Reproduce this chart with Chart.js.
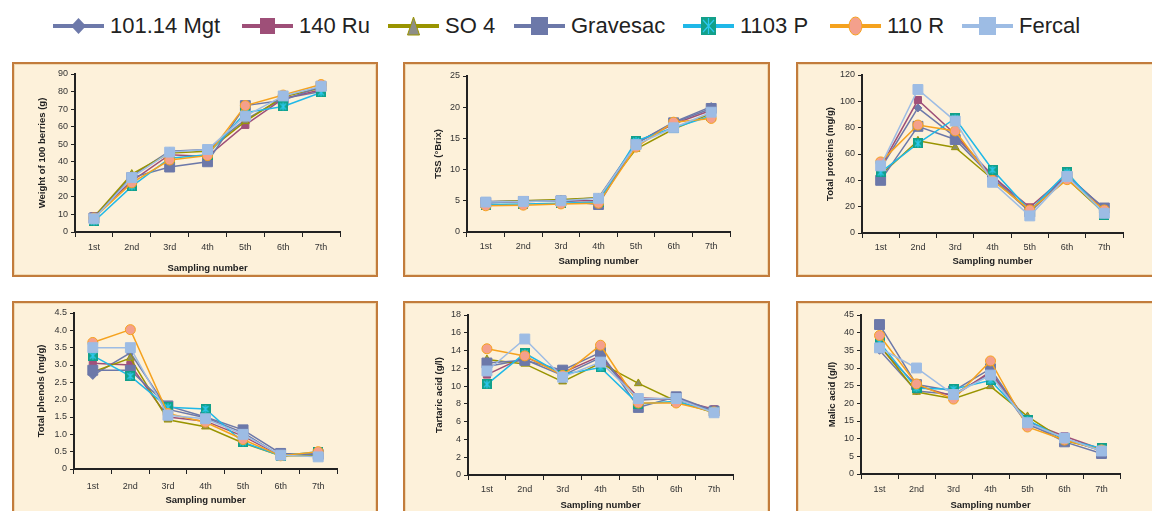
<!DOCTYPE html>
<html>
<head>
<meta charset="utf-8">
<script src="https://cdn.jsdelivr.net/npm/chart.js@4"></script>
<style>
  body { margin: 0; width: 1152px; height: 511px; overflow: hidden; background: #fff; position: relative;
         font-family: "Liberation Sans", Arial, sans-serif; }
  .panel { position: absolute; box-sizing: border-box; background: #fdf1da;
           border: 2px solid #c27c3c; box-shadow: inset 0 0 0 1px #f1d9b2; }
  canvas.plot { position: absolute; }
  .item { position: absolute; top: 14px; height: 24px; display: flex; align-items: center;
          font-size: 22px; color: #222; white-space: nowrap; }
  .item svg { margin-right: 6px; }
</style>
</head>
<body>
<script>
// categories
const samplings = ['1st', '2nd', '3rd', '4th', '5th', '6th', '7th'];
const varieties = ['101.14 Mgt', '140 Ru', 'SO 4', 'Gravesac', '1103 P', '110 R', 'Fercal'];

// one row per variety, same order as above
const weight = [
  [8, 32, 46, 47, 64, 76, 80],
  [9, 29, 44, 43, 61, 76, 81],
  [8.5, 33, 45, 46, 63, 77, 82],
  [8, 31, 37, 40, 72, 75, 83],
  [6, 26, 42, 44, 68, 71.5, 79.5],
  [8, 28, 41, 43.5, 72, 78, 84],
  [7.5, 31, 45.5, 47, 66, 77.5, 83]
];
const tss = [
  [4.9, 5.0, 5.1, 5.5, 14.2, 17.6, 20.1],
  [4.7, 4.9, 5.0, 5.0, 14.3, 17.3, 19.5],
  [4.8, 5.0, 5.2, 5.5, 13.3, 16.5, 19.0],
  [4.7, 4.9, 5.0, 4.4, 14.2, 17.5, 19.8],
  [4.4, 4.5, 4.6, 4.8, 14.6, 16.7, 18.6],
  [4.2, 4.3, 4.5, 4.6, 13.6, 17.6, 18.2],
  [4.8, 4.9, 5.0, 5.4, 14.0, 16.7, 19.2]
];
const proteins = [
  [49, 95, 73, 44, 16, 44, 18],
  [50, 101, 75, 43, 19.5, 44, 18],
  [44, 70, 65, 41, 17, 41, 15],
  [40, 81, 71, 42, 16, 43, 19],
  [46, 68, 87, 48, 17, 46, 14],
  [54, 82, 77.5, 40, 17.5, 40.5, 17.5],
  [51, 109, 85, 38.5, 13, 43, 15]
];
const phenols = [
  [2.7, 3.35, 1.72, 1.48, 1.05, 0.38, 0.43],
  [3.05, 3.0, 1.5, 1.38, 0.95, 0.38, 0.45],
  [2.8, 3.2, 1.42, 1.22, 0.75, 0.38, 0.38],
  [2.85, 2.85, 1.82, 1.5, 1.13, 0.45, 0.42],
  [3.27, 2.68, 1.78, 1.73, 0.77, 0.38, 0.5],
  [3.65, 4.02, 1.6, 1.35, 0.85, 0.38, 0.5],
  [3.5, 3.5, 1.55, 1.45, 1.0, 0.4, 0.35]
];
const tartaric = [
  [12.2, 13.0, 11.2, 13.2, 8.4, 8.7, 7.1],
  [11.3, 13.3, 11.5, 13.4, 8.7, 8.5, 7.4],
  [13.0, 12.5, 10.5, 12.6, 10.3, 8.3, 7.0],
  [12.6, 12.9, 11.8, 13.8, 7.6, 8.8, 7.2],
  [10.2, 13.7, 11.3, 12.1, 8.0, 8.3, 7.1],
  [14.2, 13.4, 11.2, 14.6, 8.1, 8.1, 7.1],
  [11.7, 15.3, 11.0, 12.7, 8.6, 8.6, 7.0]
];
const malic = [
  [35, 23.5, 22.5, 28.5, 14, 10, 6.5],
  [36, 25, 22, 29, 14.8, 10.7, 7],
  [36.5, 23.2, 21.3, 24.8, 16.3, 9.5, 7],
  [42.3, 25.3, 23.5, 29.8, 14.5, 9.1, 5.8],
  [37.3, 24.3, 24, 26.5, 15.3, 9.8, 7.3],
  [39.2, 25.5, 21.2, 32, 13.3, 9.6, 6.8],
  [35.7, 30, 22.5, 28, 14.5, 10.2, 6.5]
];

// styles
const lineColors = ['#6d79aa', '#9e4f78', '#999400', '#6c78a9', '#1fb8e8', '#f5a21e', '#9dbce4'];
const pointFills = ['#6d79aa', '#a0507a', '#8d8c66', '#6c78a9', '#12a08a', '#f4a08c', '#9dbce4'];
const pointEdges = ['#6d79aa', '#a0507a', '#9a9400', '#6c78a9', '#12a08a', '#f5a21e', '#9dbce4'];
const pointSizes = [4, 5, 4.5, 7, 5, 5, 7];
const legendLeft = [53, 242, 388, 514, 683, 830, 962];

// teal square with a cyan asterisk for 1103 P
const star = document.createElement('canvas');
star.width = 10; star.height = 10;
const sc = star.getContext('2d');
sc.fillStyle = '#12a08a';
sc.fillRect(0, 0, 10, 10);
sc.strokeStyle = '#2cc8f0';
sc.lineWidth = 1.2;
sc.beginPath();
sc.moveTo(2, 2); sc.lineTo(8, 8);
sc.moveTo(8, 2); sc.lineTo(2, 8);
sc.moveTo(5, 1); sc.lineTo(5, 9);
sc.stroke();
const pointStyles = ['rectRot', 'rect', 'triangle', 'rect', star, 'circle', 'rect'];

// panel boxes [x, y, w, h] and plot areas [left, right, top, bottom] in page pixels
const panels = [
  { data: weight, title: 'Weight of 100 berries (g)', max: 90, step: 10,
    box: [12, 62, 366, 215], plot: [75, 340, 74, 232], yTitlePad: 25, xTitlePad: 3, tickPad: 5 },
  { data: tss, title: 'TSS (°Brix)', max: 25, step: 5,
    box: [403, 62, 367, 215], plot: [467, 730, 76, 232], yTitlePad: 30, xTitlePad: 10, tickPad: 4 },
  { data: proteins, title: 'Total proteins (mg/g)', max: 120, step: 20,
    box: [796, 62, 367, 215], plot: [862, 1123, 75, 233], yTitlePad: 29, xTitlePad: 10, tickPad: 4 },
  { data: phenols, title: 'Total phenols (mg/g)', max: 4.5, step: 0.5,
    box: [12, 301, 366, 215], plot: [74, 337, 313, 469], yTitlePad: 24, xTitlePad: 10, tickPad: 7 },
  { data: tartaric, title: 'Tartaric acid (g/l)', max: 18, step: 2,
    box: [403, 301, 367, 215], plot: [468, 733, 315, 475], yTitlePad: 31, xTitlePad: 5, tickPad: 4 },
  { data: malic, title: 'Malic acid (g/l)', max: 45, step: 5,
    box: [796, 301, 367, 215], plot: [861, 1120, 315, 474], yTitlePad: 31, xTitlePad: 5, tickPad: 5 }
];

Chart.defaults.font.family = '"Liberation Sans", Arial, sans-serif';

panels.forEach(p => {
  const [bx, by, bw, bh] = p.box;
  const [pl, pr, pt, pb] = p.plot;

  const frame = document.createElement('div');
  frame.className = 'panel';
  Object.assign(frame.style, { left: bx + 'px', top: by + 'px', width: bw + 'px', height: bh + 'px' });
  document.body.appendChild(frame);

  const cv = document.createElement('canvas');
  cv.className = 'plot';
  cv.width = bw; cv.height = bh;
  Object.assign(cv.style, { left: bx + 'px', top: by + 'px', width: bw + 'px', height: bh + 'px' });
  document.body.appendChild(cv);

  new Chart(cv, {
    type: 'line',
    data: {
      labels: samplings,
      datasets: varieties.map((v, i) => ({
        label: v,
        data: p.data[i],
        borderColor: lineColors[i],
        borderWidth: 1.5,
        backgroundColor: pointFills[i],
        pointBorderColor: pointEdges[i],
        pointBorderWidth: 1,
        pointStyle: pointStyles[i],
        pointRadius: pointSizes[i],
        tension: 0,
        order: varieties.length - 1 - i
      }))
    },
    options: {
      responsive: false,
      animation: false,
      events: [],
      layout: { padding: { left: 0, top: pt - by, right: bx + bw - pr, bottom: 0 } },
      plugins: { legend: { display: false }, tooltip: { enabled: false } },
      scales: {
        x: {
          offset: true,
          grid: { offset: true, drawOnChartArea: false, tickLength: 5, color: '#222' },
          border: { color: '#222', width: 2 },
          ticks: { padding: p.tickPad, color: '#333', font: { size: 9 } },
          title: { display: true, text: 'Sampling number', color: '#222',
                   font: { size: 9.5, weight: 'bold' }, padding: { top: 0, bottom: p.xTitlePad } },
          afterFit: s => { s.height = by + bh - pb; }
        },
        y: {
          min: 0, max: p.max,
          ticks: { stepSize: p.step, color: '#333', font: { size: 9 }, padding: 3 },
          grid: { drawOnChartArea: false, tickLength: 4, color: '#222' },
          border: { color: '#222', width: 2 },
          title: { display: true, text: p.title, color: '#222',
                   font: { size: 9.5, weight: 'bold' }, padding: { top: p.yTitlePad, bottom: 0 } },
          afterFit: s => { s.width = pl - bx; }
        }
      }
    }
  });
});

// legend icons, drawn on a 51x24 box, marker centred at x=25.5
const icons = [
  c => `<polygon points="25.5,4 33,12 25.5,20 18,12" fill="${c}"/>`,
  c => `<rect x="18" y="4" width="15" height="16" fill="${c}"/>`,
  c => `<polygon points="25.5,3 31.5,21 19.5,21" fill="#8e8e86" stroke="#9a9400" stroke-width="1"/>`,
  c => `<rect x="17" y="3" width="17" height="18" fill="${c}"/>`,
  c => `<rect x="18" y="3" width="15" height="18" fill="#12a08a"/>
        <path d="M20 6 L31 18 M31 6 L20 18 M25.5 4 L25.5 20" stroke="#2cc8f0" stroke-width="1.2"/>`,
  c => `<ellipse cx="25.5" cy="12" rx="6.5" ry="9" fill="#f4a08c" stroke="${c}" stroke-width="1"/>`,
  c => `<rect x="17" y="3" width="17" height="18" fill="${c}"/>`
];
varieties.forEach((v, i) => {
  const item = document.createElement('div');
  item.className = 'item';
  item.style.left = legendLeft[i] + 'px';
  item.innerHTML = `<svg width="51" height="24"><line x1="0" y1="12" x2="51" y2="12" stroke="${lineColors[i]}" stroke-width="4"/>${icons[i](lineColors[i])}</svg><span>${v}</span>`;
  document.body.appendChild(item);
});
</script>
</body>
</html>
